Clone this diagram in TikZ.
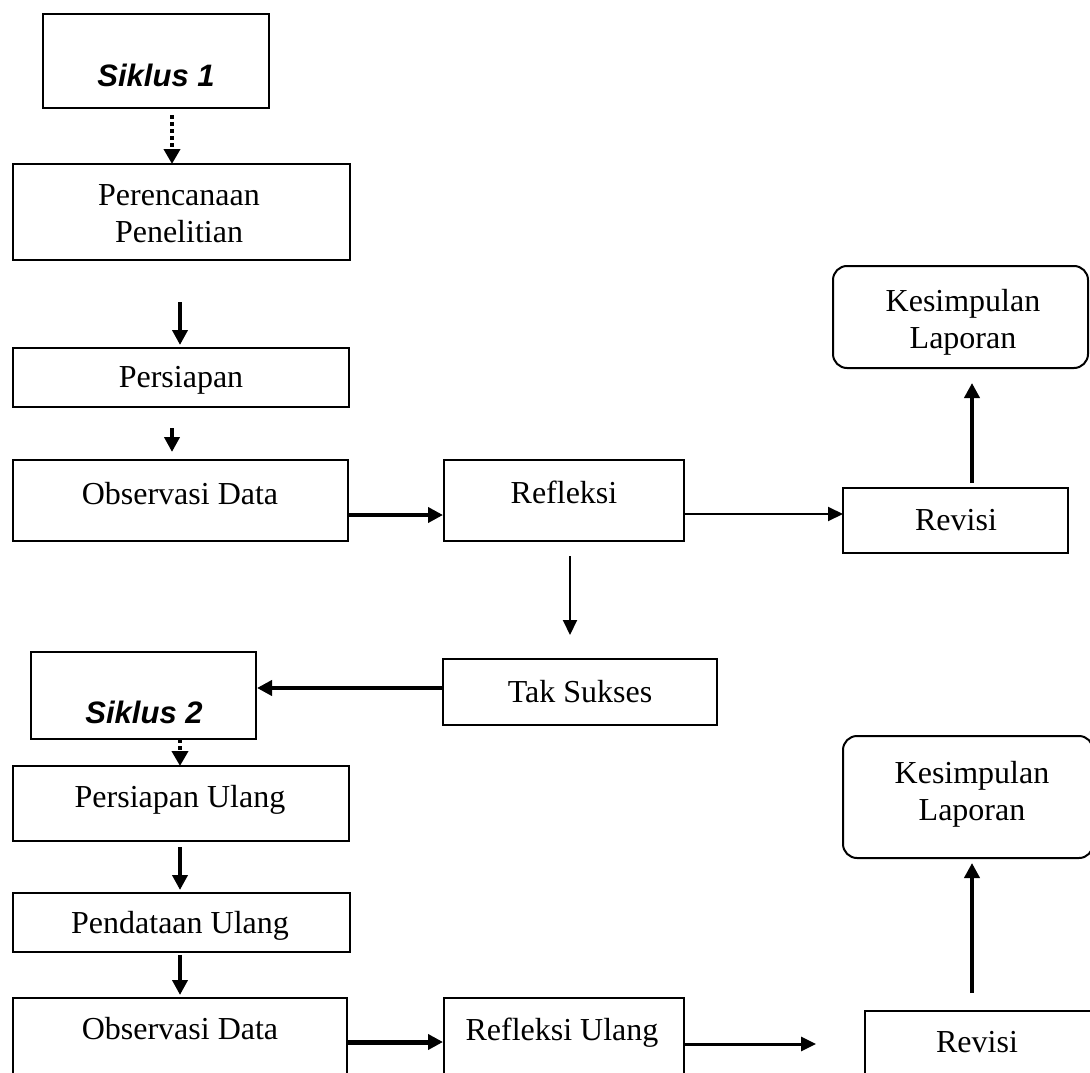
\documentclass[tikz,border=0pt]{standalone}
\usepackage{fontspec}
\setmainfont{Liberation Serif}
\newfontfamily\arialf{Liberation Sans}
\usetikzlibrary{arrows.meta}
\begin{document}
\begin{tikzpicture}[x=1pt,y=-1pt,
  box/.style={draw,line width=2pt,rectangle,inner sep=0pt,outer sep=0pt,anchor=north west},
  rbox/.style={box,rounded corners=14pt},
  txt/.style={anchor=base,inner sep=0pt,font=\fontsize{32}{37.5}\selectfont},
  stxt/.style={anchor=base,inner sep=0pt,font=\arialf\bfseries\itshape\fontsize{31}{36}\selectfont},
  thickarr/.style={line width=4pt,-{Triangle[length=15pt,width=15pt]}},
  thinarr/.style={line width=2pt,-{Triangle[length=15pt,width=14pt]}},
  dotarr/.style={line width=4pt,dash pattern=on 4pt off 3pt,-{Triangle[length=15pt,width=16pt]}}
]
\clip (0,0) rectangle (1090,1073);
% boxes
\node[box,minimum width=226pt,minimum height=94pt] (s1) at (43,14) {};
\node[box,minimum width=337pt,minimum height=96pt] (per) at (13,164) {};
\node[box,minimum width=336pt,minimum height=59pt] (ps) at (13,348) {};
\node[box,minimum width=335pt,minimum height=81pt] (obs1) at (13,460) {};
\node[box,minimum width=240pt,minimum height=81pt] (ref1) at (444,460) {};
\node[box,minimum width=225pt,minimum height=65pt] (rev1) at (843,488) {};
\node[rbox,minimum width=255pt,minimum height=102pt] (kes1) at (833,266) {};
\node[box,minimum width=274pt,minimum height=66pt] (tak) at (443,659) {};
\node[box,minimum width=225pt,minimum height=87pt] (s2) at (31,652) {};
\node[box,minimum width=336pt,minimum height=75pt] (pu) at (13,766) {};
\node[box,minimum width=337pt,minimum height=59pt] (pd) at (13,893) {};
\node[box,minimum width=334pt,minimum height=120pt] (obs2) at (13,998) {};
\node[box,minimum width=240pt,minimum height=120pt] (ref2) at (444,998) {};
\node[box,minimum width=240pt,minimum height=100pt] (rev2) at (865,1011) {};
\node[rbox,minimum width=250pt,minimum height=122pt] (kes2) at (843,736) {};
% texts
\node[stxt] (ts1) at (156,87) {Siklus 1};
\node[txt] (tper) at (179,205) {\begin{tabular}[t]{@{}c@{}}Perencanaan\\Penelitian\end{tabular}};
\node[txt] (tps) at (181,387) {Persiapan};
\node[txt] (tobs1) at (180,504) {Observasi Data};
\node[txt] (tref1) at (564,503) {Refleksi};
\node[txt] (trev1) at (956,530) {Revisi};
\node[txt] (tkes1) at (963,311) {\begin{tabular}[t]{@{}c@{}}Kesimpulan\\Laporan\end{tabular}};
\node[txt] (ttak) at (580,702) {Tak Sukses};
\node[stxt] (ts2) at (144,723) {Siklus 2};
\node[txt] (tpu) at (180,807) {Persiapan Ulang};
\node[txt] (tpd) at (180,933) {Pendataan Ulang};
\node[txt] (tobs2) at (180,1039) {Observasi Data};
\node[txt] (tref2) at (562,1040) {Refleksi Ulang};
\node[txt] (trev2) at (977,1052) {Revisi};
\node[txt] (tkes2) at (972,783) {\begin{tabular}[t]{@{}c@{}}Kesimpulan\\Laporan\end{tabular}};
% connectors
\draw[dotarr,shorten <=7pt] ([xshift=16pt]s1.south) -- ([xshift=-9.5pt]per.north);
\draw[thickarr,shorten <=42pt,shorten >=3pt] ([xshift=-1.5pt]per.south) -- ([xshift=-1pt]ps.north);
\draw[thickarr,shorten <=21pt,shorten >=8pt] ([xshift=-9pt]ps.south) -- ([xshift=-8.5pt]obs1.north);
\draw[thickarr,shorten >=1pt] ([yshift=-14.5pt]obs1.east) -- ([yshift=-14.5pt]ref1.west);
\draw[thinarr] ([yshift=-13.5pt]ref1.east) -- ([yshift=6.5pt]rev1.west);
\draw[thickarr,shorten <=5pt,shorten >=15pt] ([xshift=16.5pt]rev1.north) -- ([xshift=11.5pt]kes1.south);
\draw[thinarr,shorten <=15pt,shorten >=24pt] ([xshift=6pt]ref1.south) -- ([xshift=-10pt]tak.north);
\draw[thickarr,shorten >=1pt] ([yshift=4pt]tak.west) -- ([yshift=7.5pt]s2.east);
\draw[dotarr] ([xshift=36.5pt]s2.south) -- ([xshift=-1pt]pu.north);
\draw[thickarr,shorten <=6pt,shorten >=3pt] ([xshift=-1pt]pu.south) -- ([xshift=-1.5pt]pd.north);
\draw[thickarr,shorten <=3pt,shorten >=3pt] ([xshift=-1.5pt]pd.south) -- (obs2.north);
\draw[thickarr,line width=5pt,shorten >=1pt] ([yshift=16pt]obs2.east) -- ([yshift=16pt]ref2.west);
\coordinate (endm) at (816,1044);
\draw[thinarr,line width=3pt] ([yshift=14pt]ref2.east) -- (endm);
\draw[thickarr,shorten <=18pt,shorten >=5pt] ([xshift=-13pt]rev2.north) -- ([xshift=4pt]kes2.south);
\end{tikzpicture}
\end{document}
